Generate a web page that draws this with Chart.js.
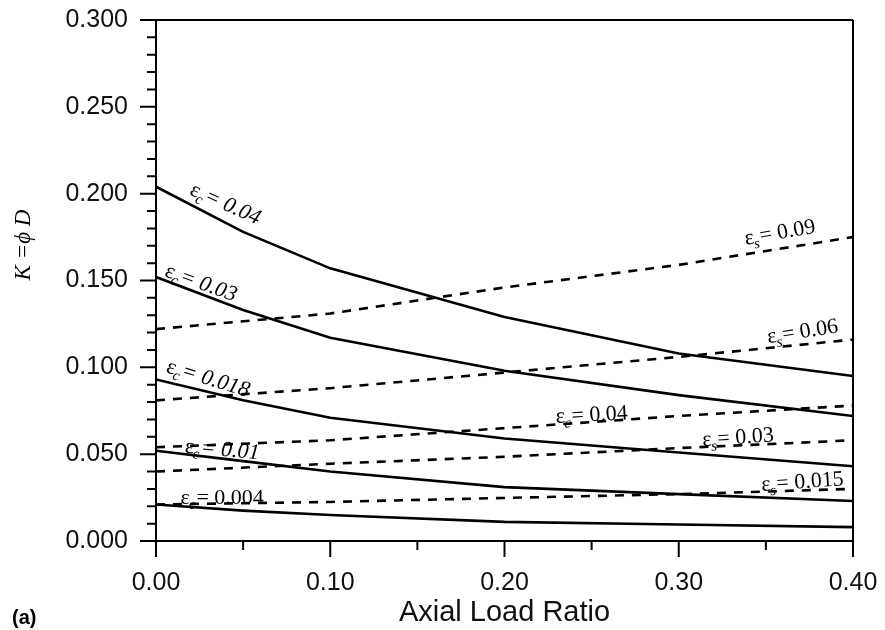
<!DOCTYPE html>
<html>
<head>
<meta charset="utf-8">
<script src="https://cdn.jsdelivr.net/npm/chart.js@4.4.1/dist/chart.umd.min.js"></script>
<style>
  html, body { margin: 0; padding: 0; background: #fff; }
  canvas { display: block; }
</style>
</head>
<body>
<canvas id="chart" width="885" height="630"></canvas>
<script>
// axial load ratios the curves were evaluated at
const ratioConc = [0, 0.05, 0.10, 0.20, 0.30, 0.40];
const ratioSteel = [0, 0.10, 0.20, 0.30, 0.40];

// K = phi*D at the concrete strain limit (solid)
const kConc040 = [0.204, 0.178, 0.157, 0.129, 0.108, 0.095];
const kConc030 = [0.152, 0.133, 0.117, 0.098, 0.084, 0.072];
const kConc018 = [0.093, 0.081, 0.071, 0.059, 0.051, 0.043];
const kConc010 = [0.052, 0.046, 0.040, 0.031, 0.027, 0.023];
const kConc004 = [0.021, 0.0175, 0.015, 0.011, 0.0095, 0.008];

// K = phi*D at the steel strain limit (dashed)
const kSteel090 = [0.122, 0.131, 0.146, 0.159, 0.175];
const kSteel060 = [0.081, 0.088, 0.097, 0.106, 0.116];
const kSteel040 = [0.054, 0.058, 0.065, 0.072, 0.078];
const kSteel030 = [0.040, 0.0445, 0.0485, 0.0535, 0.058];
const kSteel015 = [0.021, 0.0225, 0.0248, 0.027, 0.030];

const xTicks = [0, 0.1, 0.2, 0.3, 0.4];
const yTicks = [0, 0.05, 0.1, 0.15, 0.2, 0.25, 0.3];

// curve annotations, placed in data units
const strainLabels = [
  { sub: 'c', val: '0.04',  x: 0.040, y: 0.1946, angle: 24, italic: true },
  { sub: 'c', val: '0.03',  x: 0.026, y: 0.149,  angle: 20, italic: true },
  { sub: 'c', val: '0.018', x: 0.030, y: 0.094,  angle: 17, italic: true },
  { sub: 'c', val: '0.01',  x: 0.038, y: 0.053,  angle: 5,  italic: true },
  { sub: 'c', val: '0.004', x: 0.038, y: 0.0253, angle: 0,  italic: false },
  { sub: 's', val: '0.09',  x: 0.358, y: 0.178,  angle: -10, italic: false },
  { sub: 's', val: '0.06',  x: 0.371, y: 0.121,  angle: -9,  italic: false },
  { sub: 'c', val: '0.04',  x: 0.250, y: 0.073,  angle: -3,  italic: false },
  { sub: 's', val: '0.03',  x: 0.334, y: 0.060,  angle: -4,  italic: false },
  { sub: 's', val: '0.015', x: 0.371, y: 0.0345, angle: -4,  italic: false }
];

function pairs(xs, ys) {
  return xs.map((v, i) => ({ x: v, y: ys[i] }));
}

function solid(ys) {
  return { data: pairs(ratioConc, ys), borderColor: '#000', borderWidth: 2.6,
           pointRadius: 0, tension: 0, fill: false };
}

function dashed(ys) {
  return { data: pairs(ratioSteel, ys), borderColor: '#000', borderWidth: 2.6,
           borderDash: [9, 8], pointRadius: 0, tension: 0, fill: false };
}

const serif = '"Liberation Serif", "Times New Roman", serif';
const sans = '"Liberation Sans", Arial, sans-serif';

function drawStrain(ctx, lab, px, py) {
  const mainFont = '22px ' + serif;
  const valFont = (lab.italic ? 'italic ' : '') + '22px ' + serif;
  const subFont = 'italic 15px ' + serif;
  const rest = '= ' + lab.val;
  ctx.font = mainFont;
  const w1 = ctx.measureText('\u03b5').width;
  ctx.font = subFont;
  const w2 = ctx.measureText(lab.sub).width;
  ctx.font = valFont;
  const w3 = ctx.measureText(rest).width;
  let x0 = -(w1 + w2 + w3) / 2;
  ctx.save();
  ctx.translate(px, py);
  ctx.rotate(lab.angle * Math.PI / 180);
  ctx.fillStyle = '#000';
  ctx.textBaseline = 'alphabetic';
  ctx.textAlign = 'left';
  ctx.font = mainFont;
  ctx.fillText('\u03b5', x0, 7);
  ctx.font = subFont;
  ctx.fillText(lab.sub, x0 + w1 - 1, 12);
  ctx.font = valFont;
  ctx.fillText(rest, x0 + w1 + w2, 7);
  ctx.restore();
}

const framePlugin = {
  id: 'frame',
  afterDraw(chart) {
    const { ctx, chartArea: a, scales: { x, y } } = chart;
    ctx.save();
    ctx.strokeStyle = '#000';
    ctx.lineWidth = 2;
    ctx.beginPath();
    ctx.moveTo(a.left, a.top); ctx.lineTo(a.right, a.top);
    ctx.moveTo(a.left, a.bottom); ctx.lineTo(a.right, a.bottom);
    ctx.moveTo(a.left, a.top); ctx.lineTo(a.left, a.bottom + 16);
    ctx.moveTo(a.right, a.top); ctx.lineTo(a.right, a.bottom + 16);
    // y ticks every 0.01, long ones at 0.05
    for (let i = 0; i <= 30; i++) {
      const py = y.getPixelForValue(i / 100);
      const len = i % 5 === 0 ? 16 : 9;
      ctx.moveTo(a.left - len, py); ctx.lineTo(a.left, py);
    }
    // x ticks every 0.05, long ones at 0.1
    for (let i = 0; i <= 8; i++) {
      const px = x.getPixelForValue(i * 0.05);
      const len = i % 2 === 0 ? 16 : 9;
      ctx.moveTo(px, a.bottom); ctx.lineTo(px, a.bottom + len);
    }
    ctx.stroke();

    strainLabels.forEach(lab => {
      drawStrain(ctx, lab, x.getPixelForValue(lab.x), y.getPixelForValue(lab.y));
    });

    // vertical axis title
    ctx.save();
    ctx.translate(24, 245);
    ctx.rotate(-Math.PI / 2);
    ctx.fillStyle = '#000';
    ctx.textAlign = 'center';
    ctx.textBaseline = 'middle';
    ctx.font = 'italic 23px ' + serif;
    ctx.fillText('K =\u03d5 D', 0, 0);
    ctx.restore();

    // panel tag
    ctx.fillStyle = '#000';
    ctx.textAlign = 'left';
    ctx.textBaseline = 'middle';
    ctx.font = 'bold 20px ' + sans;
    ctx.fillText('(a)', 12, 618);
    ctx.restore();
  }
};

const tickFont = { family: sans, size: 25 };

new Chart(document.getElementById('chart'), {
  type: 'line',
  data: {
    datasets: [
      solid(kConc040), solid(kConc030), solid(kConc018), solid(kConc010), solid(kConc004),
      dashed(kSteel090), dashed(kSteel060), dashed(kSteel040), dashed(kSteel030), dashed(kSteel015)
    ]
  },
  options: {
    responsive: false,
    animation: false,
    devicePixelRatio: 1,
    layout: { padding: { left: 0, top: 20, right: 32, bottom: 0 } },
    plugins: { legend: { display: false }, tooltip: { enabled: false } },
    scales: {
      x: {
        type: 'linear',
        min: 0, max: 0.4,
        grid: { display: false, drawTicks: false },
        border: { display: false },
        afterBuildTicks: s => { s.ticks = xTicks.map(v => ({ value: v })); },
        afterFit: s => {
          s.height = 89;
          s.paddingLeft = 0;
          s.paddingRight = 0;
        },
        ticks: { color: '#111', font: tickFont, padding: 27,
                 callback: v => v.toFixed(2) },
        title: { display: true, text: 'Axial Load Ratio', color: '#111',
                 font: { family: sans, size: 29 },
                 padding: { top: 0, bottom: 0 } }
      },
      y: {
        type: 'linear',
        min: 0, max: 0.3,
        grid: { display: false, drawTicks: false },
        border: { display: false },
        afterBuildTicks: s => { s.ticks = yTicks.map(v => ({ value: v })); },
        afterFit: s => {
          s.width = 156;
          s.paddingTop = 0;
          s.paddingBottom = 0;
        },
        ticks: { color: '#111', font: tickFont, padding: 28,
                 callback: v => v.toFixed(3) }
      }
    }
  },
  plugins: [framePlugin]
});
</script>
</body>
</html>
